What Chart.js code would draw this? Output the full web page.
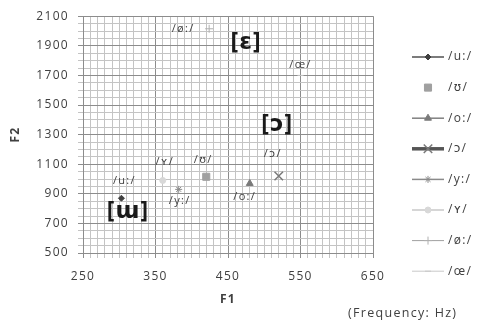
<!DOCTYPE html>
<html>
<head>
<meta charset="utf-8">
<script src="https://cdn.jsdelivr.net/npm/chart.js@4.4.1/dist/chart.umd.min.js"></script>
<style>
  html, body { margin: 0; padding: 0; background: #fff; }
  #wrap { width: 480px; height: 327px; position: relative; }
</style>
</head>
<body>
<div id="wrap"><canvas id="chart_vowels"></canvas></div>
<script>
// vowel formants (Hz)
const vowels = ["/u:/", "/ʊ/", "/o:/", "/ɔ/", "/y:/", "/ʏ/", "/ø:/", "/œ/"];
const f1 = [303, 420, 480, 520, 382, 360, 424, 550];
const f2 = [870, 1015, 970, 1020, 930, 990, 2015, 1700];

const xTickLabels = [250, 350, 450, 550, 650];
const yTickLabels = [500, 700, 900, 1100, 1300, 1500, 1700, 1900, 2100];

// big phonetic labels placed in the plot
const bigLabels = ["[ɛ]", "[ɔ]", "[ɯ]"];
const bigF1 = [475, 518, 312];
const bigF2 = [1925, 1367, 782];

// styles for each series (marker + legend line)
const styles = [
  { ps: "rectRot",  r: 3,   fill: "#404040", stroke: "#404040", bw: 1,   line: "#505050", lw: 1.5 },
  { ps: "rect",     r: 5,   fill: "#a0a0a0", stroke: "#a0a0a0", bw: 1,   line: null,      lw: 0 },
  { ps: "triangle", r: 4,   fill: "#7a7a7a", stroke: "#7a7a7a", bw: 1,   line: "#808080", lw: 1.5 },
  { ps: "crossRot", r: 6,   fill: "#7a7a7a", stroke: "#7a7a7a", bw: 1.5, line: "#555555", lw: 3.5 },
  { ps: "star",     r: 3.5, fill: "#8a8a8a", stroke: "#8a8a8a", bw: 1,   line: "#8a8a8a", lw: 1.5 },
  { ps: "circle",   r: 3,   fill: "#d8d8d8", stroke: "#d8d8d8", bw: 1,   line: "#c8c8c8", lw: 1.5 },
  { ps: "cross",    r: 4,   fill: "#b0b0b0", stroke: "#b0b0b0", bw: 1,   line: "#a0a0a0", lw: 1 },
  { ps: "line",     r: 3,   fill: "#c8c8c8", stroke: "#c8c8c8", bw: 1,   line: "#c8c8c8", lw: 1 }
];
// label offsets (px) relative to each point
const labelDx = [3, -3, -5, -6, 1, 2, -26, 0];
const labelDy = [-17, -17, 13, -22, 11, -19, 0, -11];

const FONT = "'Open Sans', 'DejaVu Sans', sans-serif";
const TXT = "#404040";

const datasets = vowels.map(function (v, i) {
  const s = styles[i];
  return {
    label: v,
    data: [{ x: f1[i], y: f2[i] }],
    pointStyle: s.ps,
    pointRadius: s.r,
    pointBackgroundColor: s.fill,
    pointBorderColor: s.stroke,
    pointBorderWidth: s.bw,
    showLine: false
  };
});

// the original has widely spaced letters
const spacing = {
  id: "spacing",
  beforeDraw(chart) { chart.ctx.letterSpacing = "1.3px"; }
};

const overlay = {
  id: "overlay",
  afterDatasetsDraw(chart) {
    const ctx = chart.ctx;
    const xs = chart.scales.x, ys = chart.scales.y;
    ctx.save();
    ctx.letterSpacing = "1.3px";
    ctx.fillStyle = TXT;
    ctx.textAlign = "center";
    ctx.textBaseline = "middle";

    // point labels
    ctx.font = "11px " + FONT;
    vowels.forEach(function (v, i) {
      const px = xs.getPixelForValue(f1[i]) + labelDx[i];
      const py = ys.getPixelForValue(f2[i]) + labelDy[i];
      ctx.fillText(v, px, py);
    });

    // big bracket labels
    ctx.letterSpacing = "1px";
    ctx.font = "bold 23px " + FONT;
    ctx.fillStyle = "#1a1a1a";
    bigLabels.forEach(function (t, i) {
      ctx.fillText(t, xs.getPixelForValue(bigF1[i]), ys.getPixelForValue(bigF2[i]));
    });

    // axis titles
    ctx.letterSpacing = "1.3px";
    ctx.fillStyle = TXT;
    ctx.font = "bold 12px " + FONT;
    ctx.fillText("F1", (chart.chartArea.left + chart.chartArea.right) / 2, 300);
    ctx.save();
    ctx.translate(16, (chart.chartArea.top + chart.chartArea.bottom) / 2);
    ctx.rotate(-Math.PI / 2);
    ctx.fillText("F2", 0, 0);
    ctx.restore();
    ctx.font = "12.5px " + FONT;
    ctx.textAlign = "left";
    ctx.fillText("(Frequency: Hz)", 348, 313);

    // legend
    const lx0 = 412, lx1 = 444, ly0 = 57, lstep = 30.6;
    vowels.forEach(function (v, i) {
      const s = styles[i];
      const y = ly0 + i * lstep;
      if (s.line) {
        ctx.strokeStyle = s.line;
        ctx.lineWidth = s.lw;
        ctx.beginPath();
        ctx.moveTo(lx0, y);
        ctx.lineTo(lx1, y);
        ctx.stroke();
      }
      ctx.fillStyle = s.fill;
      ctx.strokeStyle = s.stroke;
      ctx.lineWidth = s.bw;
      Chart.helpers.drawPoint(ctx, { pointStyle: s.ps, radius: s.r, rotation: 0, borderWidth: s.bw }, (lx0 + lx1) / 2, y);
      ctx.fillStyle = TXT;
      ctx.font = "12px " + FONT;
      ctx.textAlign = "left";
      ctx.fillText(v, 448, y);
    });
    ctx.restore();
  }
};

function isMajorX(v) { return xTickLabels.indexOf(v) >= 0; }
function isMajorY(v) { return yTickLabels.indexOf(v) >= 0; }

new Chart(document.getElementById("chart_vowels"), {
  type: "scatter",
  data: { datasets: datasets },
  options: {
    responsive: true,
    maintainAspectRatio: false,
    animation: false,
    layout: { padding: { left: 0, top: 15, right: 107, bottom: 0 } },
    plugins: { legend: { display: false }, tooltip: { enabled: false } },
    scales: {
      x: {
        type: "linear",
        min: 250, max: 650,
        afterFit(scale) { scale.height = 74; },
        ticks: {
          stepSize: 10, autoSkip: false, maxRotation: 0,
          color: TXT, font: { family: FONT, size: 12 }, padding: 11,
          callback: function (v) { return isMajorX(v) ? String(v) : ""; }
        },
        grid: {
          tickLength: 5,
          color: function (c) { return c.tick && isMajorX(c.tick.value) ? "#8c8c8c" : "#c4c4c4"; },
          lineWidth: 1
        },
        border: { color: "#8c8c8c" }
      },
      y: {
        type: "linear",
        min: 500, max: 2100,
        afterFit(scale) { scale.width = 83; },
        ticks: {
          stepSize: 50, autoSkip: false,
          color: TXT, font: { family: FONT, size: 12 }, padding: 9,
          callback: function (v) { return isMajorY(v) ? String(v) : ""; }
        },
        grid: {
          tickLength: 5,
          color: function (c) { return c.tick && isMajorY(c.tick.value) ? "#8c8c8c" : "#c4c4c4"; },
          lineWidth: 1
        },
        border: { color: "#8c8c8c" }
      }
    }
  },
  plugins: [spacing, overlay]
});
</script>
</body>
</html>
